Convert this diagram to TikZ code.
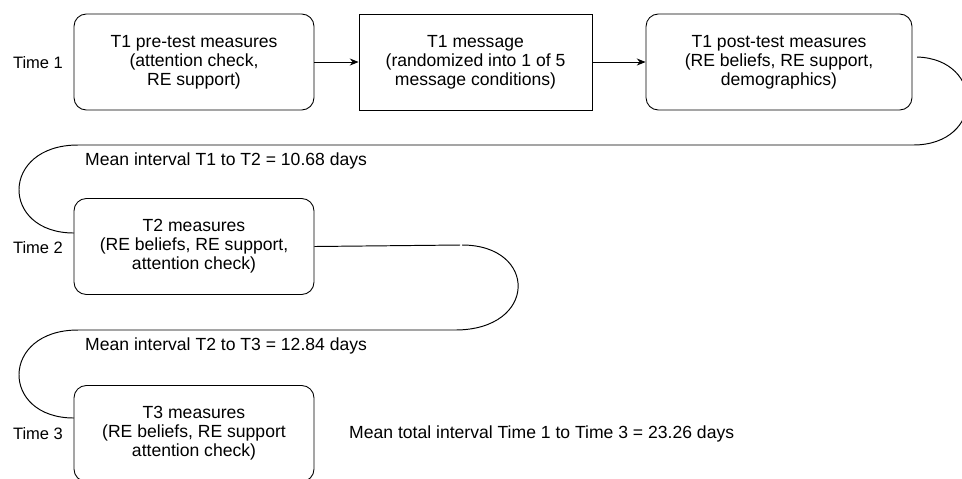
\documentclass[tikz,border=0pt]{standalone}
\usepackage{fontspec}
\setmainfont{Liberation Sans}
\usetikzlibrary{arrows.meta,positioning}
\begin{document}
\begin{tikzpicture}[x=0.02cm,y=-0.02cm,
  every node/.style={font=\fontsize{10}{10.8}\selectfont},
  measure/.style={draw, rounded corners=7pt, align=center, line width=0.5pt, minimum width=4.8cm, minimum height=1.92cm},
  msgbox/.style={draw, align=center, line width=0.5pt, minimum width=4.66cm, minimum height=1.92cm},
  wave/.style={font=\fontsize{9.4}{10.8}\selectfont},
  link/.style={line width=0.55pt},
  flow/.style={link, -{Stealth[length=5pt,width=4pt]}}]
\useasboundingbox (0,0) rectangle (962,478);
% row 1
\node[measure] (pre) at (194,62) {T1 pre-test measures\\(attention check,\\RE support)};
\node[msgbox] (msg) at (475.5,62) {T1 message\\(randomized into 1 of 5\\message conditions)};
\node[measure, minimum width=5.32cm] (post) at (779,62) {T1 post-test measures\\(RE beliefs, RE support,\\demographics)};
\node[wave] (time1) at (38,63) {Time 1};
% later waves
\node[measure] (tt) at (194,246.5) {T2 measures\\(RE beliefs, RE support,\\attention check)};
\node[wave] (time2) at (38,248) {Time 2};
\node[measure] (ttt) at (194,433.5) {T3 measures\\(RE beliefs, RE support\\attention check)};
\node[wave] (time3) at (38,434) {Time 3};
\node[anchor=west] (gap12) at (79,161) {Mean interval T1 to T2 = 10.68 days};
\node[anchor=west] (gap23) at (79,346) {Mean interval T2 to T3 = 12.84 days};
\node[anchor=west] (total) at (343,434) {Mean total interval Time 1 to Time 3 = 23.26 days};

% turn points
\coordinate (a1) at (917,57);
\coordinate (a2) at (913,145);
\coordinate (a3) at (78,145);
\coordinate (a4) at (74,233);
\coordinate (b1) at (462,245);
\coordinate (b2) at (455,330);
\coordinate (b3) at (78,330);
\coordinate (b4) at (74,418);

% edges
\draw[flow] (pre) -- (msg);
\draw[flow] (msg) -- (post);
\draw[link] (a1) .. controls (985,59) and (985,145) .. (a2) -- (a3)
  .. controls (0,145) and (0,233) .. (a4);
\draw[link] (tt.east) -- (460,245);
\draw[link] (b1) .. controls (538,245) and (538,330) .. (b2) -- (b3)
  .. controls (0,330) and (0,418) .. (b4);
\end{tikzpicture}
\end{document}
